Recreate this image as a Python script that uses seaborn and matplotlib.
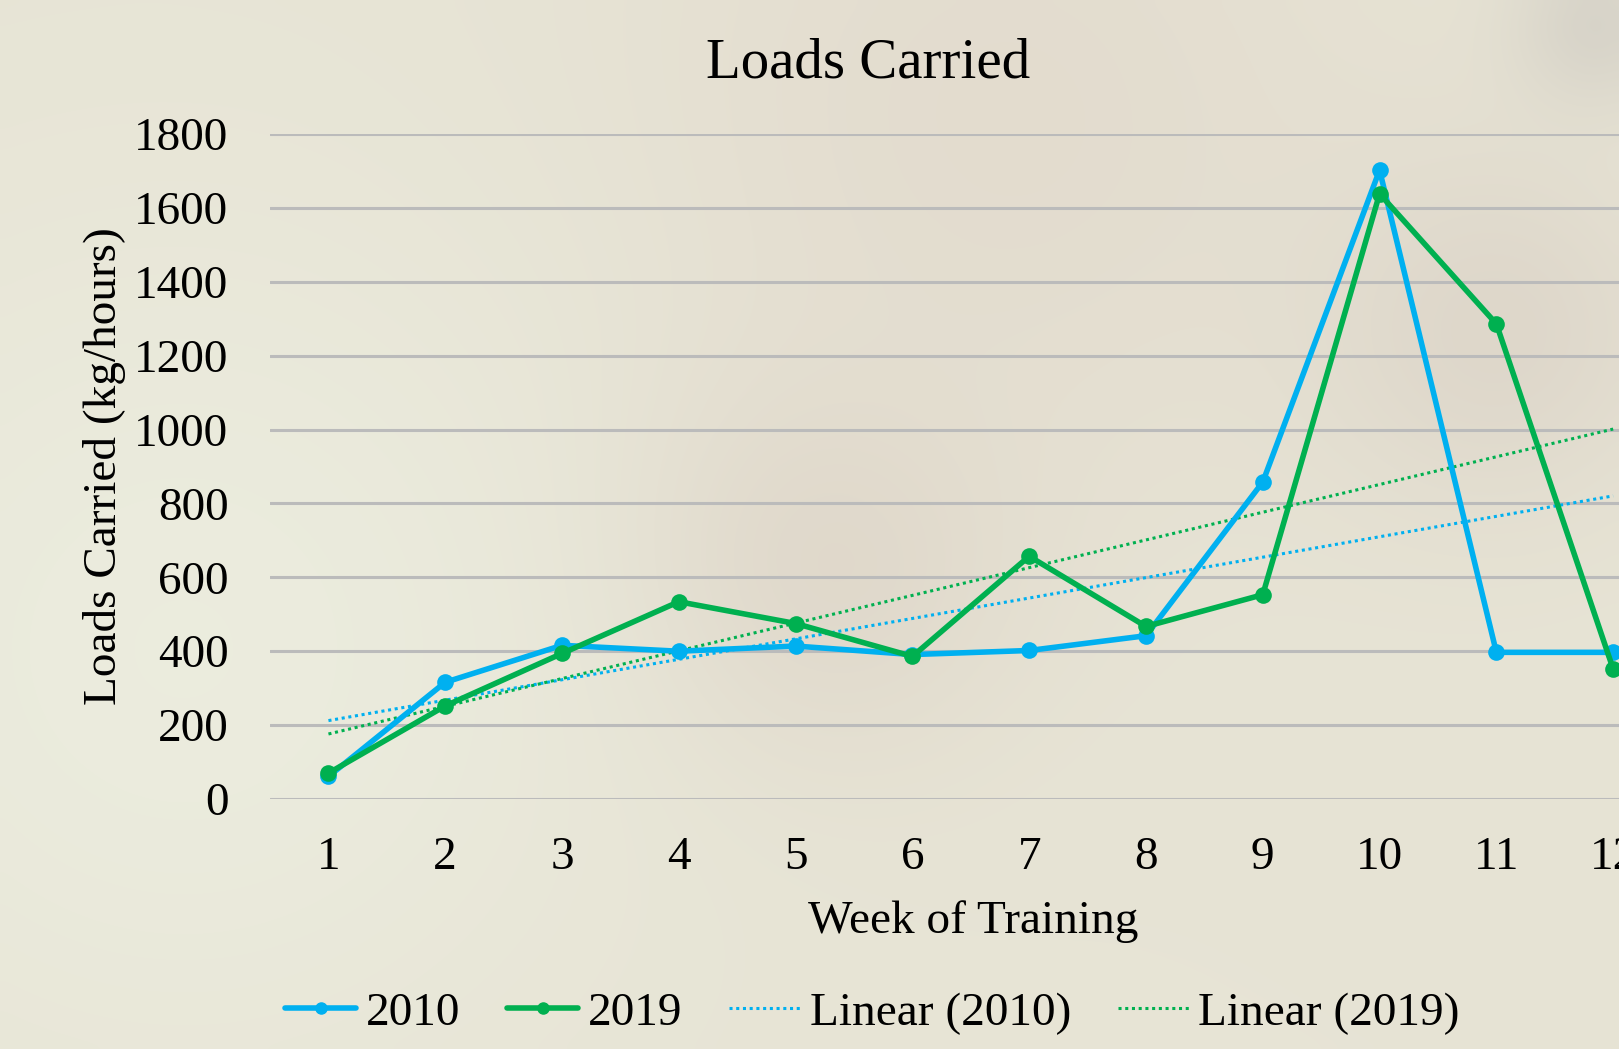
import numpy as np
import pandas as pd
import matplotlib
matplotlib.use('Agg')
import matplotlib.pyplot as plt
import seaborn as sns
from matplotlib.lines import Line2D
from matplotlib.colors import to_rgb

# data
weeks = [1, 2, 3, 4, 5, 6, 7, 8, 9, 10, 11, 12]
loads_2010 = [61, 316, 416, 400, 414, 391, 402, 442, 858, 1702, 397, 397]
loads_2019 = [70, 252, 394, 534, 475, 386, 657, 467, 553, 1638, 1286, 352]
years = ['2010', '2019']
colours = {'2010': '#00B0F0', '2019': '#00B050'}
y_ticks = [0, 200, 400, 600, 800, 1000, 1200, 1400, 1600, 1800]

sns.set_theme(style='white')
plt.rcParams['font.family'] = ['Liberation Serif', 'DejaVu Serif']
plt.rcParams['text.color'] = 'black'
plt.rcParams['axes.labelcolor'] = 'black'
plt.rcParams['xtick.color'] = 'black'
plt.rcParams['ytick.color'] = 'black'

df = pd.DataFrame({'Week': weeks * 2,
                   'Load': loads_2010 + loads_2019,
                   'Year': ['2010'] * 12 + ['2019'] * 12})

W, H = 1619, 1049
fig = plt.figure(figsize=(W / 100, H / 100), dpi=100)

# soft blotchy backdrop
bg = fig.add_axes([0, 0, 1, 1], zorder=-2)
gx, gy = np.meshgrid(np.linspace(0, W, 162), np.linspace(0, H, 105))
img = np.ones((105, 162, 3)) * np.array(to_rgb('#E7E4D5'))
blobs = [((810, 560), 140, '#DDD4C7', 0.9),
         ((1000, 120), 260, '#E2DACD', 0.8),
         ((1500, 330), 130, '#DCD4C8', 0.8),
         ((180, 650), 320, '#ECEDDF', 0.9),
         ((1600, 20), 60, '#D4D0C6', 0.8)]
for (cx, cy), s, col, a in blobs:
    w = a * np.exp(-((gx - cx) ** 2 + (gy - cy) ** 2) / (2 * s ** 2))
    img = img * (1 - w[..., None]) + np.array(to_rgb(col)) * w[..., None]
bg.imshow(img, aspect='auto', interpolation='bicubic', extent=[0, W, H, 0])
bg.axis('off')

ax = fig.add_axes([0.1668, 0.2383, 0.8332, 0.634])
ax.set_facecolor('none')

# trendlines (Excel "Linear")
for yr in years:
    sns.regplot(data=df[df['Year'] == yr], x='Week', y='Load', ax=ax,
                scatter=False, ci=None, truncate=True,
                line_kws={'color': colours[yr], 'ls': (0, (1, 1.2)),
                          'lw': 2.2, 'zorder': 2})

sns.lineplot(data=df, x='Week', y='Load', hue='Year', palette=colours,
             marker='o', markersize=12, markeredgewidth=0, lw=4.0,
             ax=ax, legend=False, zorder=3, clip_on=True)

ax.set_xlim(0.5, 12.05)
ax.set_ylim(0, 1800)
ax.set_yticks(y_ticks)
ax.set_xticks(weeks)
ax.grid(axis='y', color='#BBBBBB', lw=2.2)
ax.grid(axis='x', visible=False)
for sp in ax.spines.values():
    sp.set_visible(False)
ax.tick_params(axis='y', length=0, pad=30, labelsize=34)
ax.tick_params(axis='x', length=0, pad=27, labelsize=34)

ax.set_xlabel('Week of Training', fontsize=34)
ax.xaxis.set_label_coords(0.521, -0.152)
ax.set_ylabel('Loads Carried (kg/hours)', fontsize=34)
ax.yaxis.set_label_coords(-0.107, 0.5)

fig.text(0.536, 0.939, 'Loads Carried', fontsize=41, ha='center', va='center')

handles = [Line2D([], [], color=colours['2010'], lw=4.0, marker='o', ms=8),
           Line2D([], [], color=colours['2019'], lw=4.0, marker='o', ms=8),
           Line2D([], [], color=colours['2010'], lw=2.2, ls=(0, (1, 1.2))),
           Line2D([], [], color=colours['2019'], lw=2.2, ls=(0, (1, 1.2)))]
labels = ['2010', '2019', 'Linear (2010)', 'Linear (2019)']
fig.legend(handles, labels, loc='center', bbox_to_anchor=(0.539, 0.034),
           ncol=4, frameon=False, fontsize=34, handlelength=1.5,
           handletextpad=0.2, columnspacing=1.0)

fig.savefig('out.png', dpi=100)
